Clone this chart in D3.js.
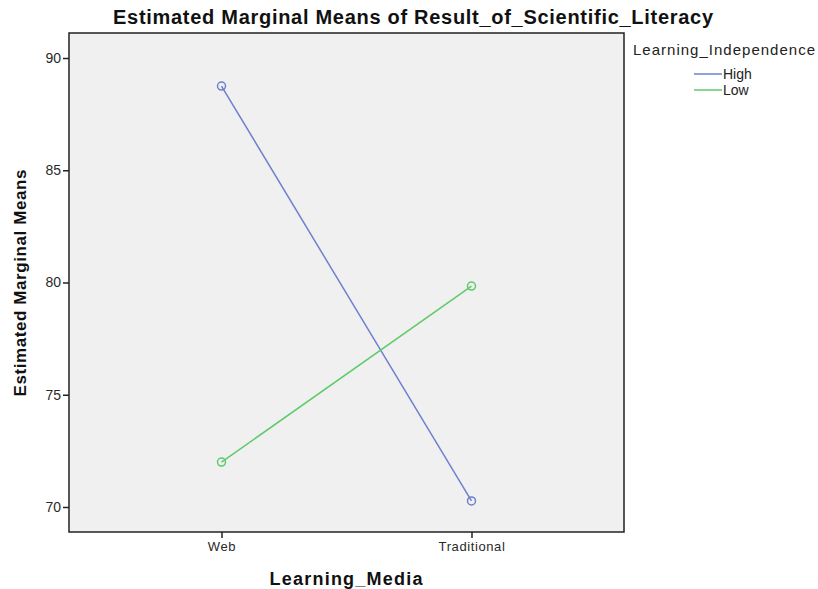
<!DOCTYPE html>
<html>
<head>
<meta charset="utf-8">
<script src="https://cdn.jsdelivr.net/npm/d3@7"></script>
<style>
  body { margin: 0; background: #ffffff; }
  text { font-family: "Liberation Sans", Arial, sans-serif; }
</style>
</head>
<body>
<svg id="chart" width="818" height="589"></svg>
<script>
// data
var media = ["Web", "Traditional"];
var groups = ["High", "Low"];
var highMeans = [88.75, 70.27];
var lowMeans = [72.0, 79.84];
var yTicks = [70, 75, 80, 85, 90];
var colors = { High: "#6e80cf", Low: "#5ccb68" };

var svg = d3.select("#chart");

var plotLeft = 69, plotTop = 33, plotRight = 624, plotBottom = 532;

var x = d3.scalePoint().domain(media).range([plotLeft, plotRight]).padding(0.61);
var y = d3.scaleLinear().domain([68.886, 91.114]).range([plotBottom, plotTop]);

// plot area
svg.append("rect")
    .attr("x", plotLeft).attr("y", plotTop)
    .attr("width", plotRight - plotLeft).attr("height", plotBottom - plotTop)
    .attr("fill", "#f0f0f0")
    .attr("stroke", "#222").attr("stroke-width", 1.5);

// axes
var yAxis = svg.append("g")
    .attr("transform", "translate(" + plotLeft + ",0)")
    .call(d3.axisLeft(y).tickValues(yTicks).tickSize(6).tickPadding(2));
var xAxis = svg.append("g")
    .attr("transform", "translate(0," + plotBottom + ")")
    .call(d3.axisBottom(x).tickSize(6).tickPadding(4));
[yAxis, xAxis].forEach(function(g){
    g.select(".domain").remove();
    g.selectAll("line").attr("stroke", "#222").attr("stroke-width", 1.5);
    g.selectAll("text").attr("fill", "#2a2a2a").attr("font-size", 13)
        .attr("font-family", "'Liberation Sans', Arial, sans-serif");
});
xAxis.selectAll("text").attr("letter-spacing", 0.6);
yAxis.selectAll("text").attr("font-size", 14);

// series
var series = [
    { name: "High", values: highMeans },
    { name: "Low", values: lowMeans }
];

var line = d3.line()
    .x(function(d, i){ return x(media[i]); })
    .y(function(d){ return y(d); });

series.forEach(function(s){
    svg.append("path")
        .datum(s.values)
        .attr("d", line)
        .attr("fill", "none")
        .attr("stroke", colors[s.name])
        .attr("stroke-width", 1.5);

    svg.selectAll(null)
        .data(s.values)
        .enter()
        .append("circle")
        .attr("cx", function(d, i){ return x(media[i]); })
        .attr("cy", function(d){ return y(d); })
        .attr("r", 4)
        .attr("fill", "none")
        .attr("stroke", colors[s.name])
        .attr("stroke-width", 1.5);
});

// titles
svg.append("text")
    .attr("x", 413).attr("y", 24)
    .attr("text-anchor", "middle")
    .attr("font-size", 20).attr("font-weight", "bold").attr("fill", "#111")
    .attr("textLength", 600).attr("lengthAdjust", "spacing")
    .text("Estimated Marginal Means of Result_of_Scientific_Literacy");

svg.append("text")
    .attr("transform", "translate(26,283) rotate(-90)")
    .attr("text-anchor", "middle")
    .attr("font-family", "'Open Sans', sans-serif")
    .attr("font-size", 17).attr("font-weight", "bold").attr("fill", "#111")
    .attr("textLength", 227).attr("lengthAdjust", "spacing")
    .text("Estimated Marginal Means");

svg.append("text")
    .attr("x", 346).attr("y", 585)
    .attr("text-anchor", "middle")
    .attr("font-size", 18).attr("font-weight", "bold").attr("fill", "#111")
    .attr("textLength", 153).attr("lengthAdjust", "spacing")
    .text("Learning_Media");

// legend
svg.append("text")
    .attr("x", 633).attr("y", 55)
    .attr("font-size", 15).attr("fill", "#222")
    .attr("textLength", 182).attr("lengthAdjust", "spacing")
    .text("Learning_Independence");

var leg = svg.selectAll(".leg")
    .data(groups)
    .enter()
    .append("g")
    .attr("transform", function(d, i){ return "translate(694," + (74 + i * 16) + ")"; });
leg.append("line")
    .attr("x1", 0).attr("x2", 28)
    .attr("stroke", function(d){ return colors[d]; })
    .attr("stroke-width", 1.5);
leg.append("text")
    .attr("x", 29).attr("y", 5)
    .attr("font-size", 14).attr("fill", "#222")
    .text(function(d){ return d; });
</script>
</body>
</html>
